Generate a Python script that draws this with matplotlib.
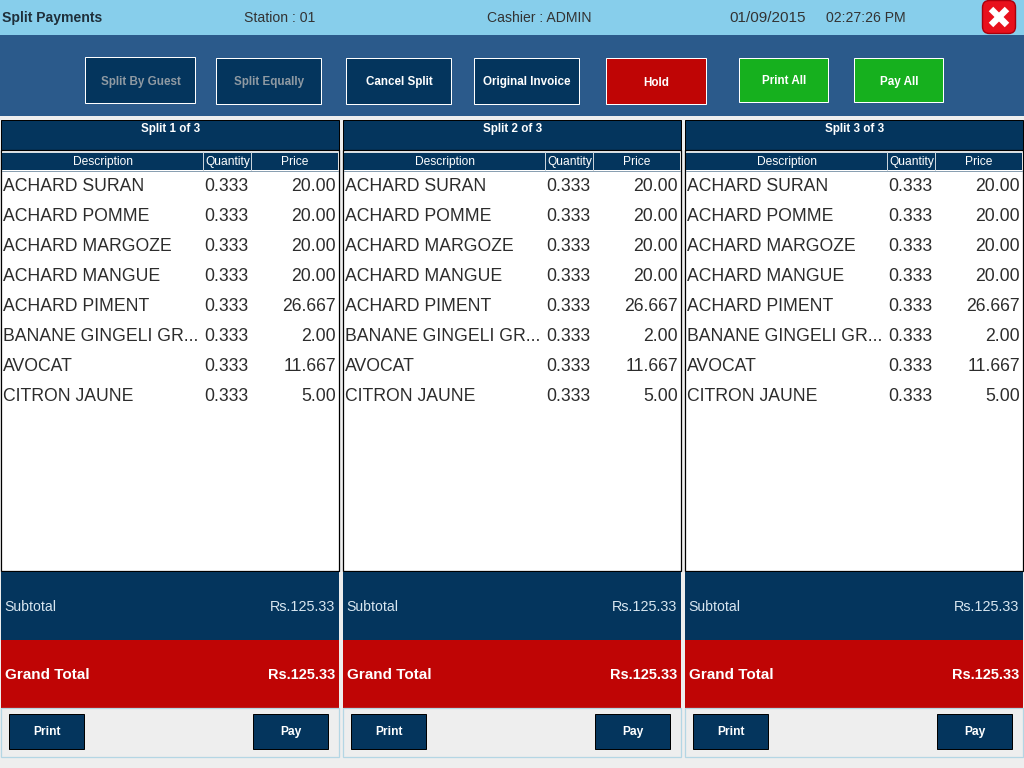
import matplotlib
matplotlib.use("Agg")
import matplotlib.pyplot as plt
from matplotlib.patches import Rectangle, FancyBboxPatch

# === DATA ===
descriptions = ["ACHARD SURAN", "ACHARD POMME", "ACHARD MARGOZE", "ACHARD MANGUE",
                "ACHARD PIMENT", "BANANE GINGELI GR...", "AVOCAT", "CITRON JAUNE"]
quantities = ["0.333", "0.333", "0.333", "0.333", "0.333", "0.333", "0.333", "0.333"]
prices = ["20.00", "20.00", "20.00", "20.00", "26.667", "2.00", "11.667", "5.00"]
split_titles = ["Split 1 of 3", "Split 2 of 3", "Split 3 of 3"]
columns = ["Description", "Quantity", "Price"]
subtotal = "Rs.125.33"
grand_total = "Rs.125.33"

# === COLOURS ===
SKY = "#87ceeb"
BAND = "#2b5a8b"
NAVY = "#04355d"
RED = "#bf0505"
GREEN = "#16b01e"
GREY = "#eeeeee"
FONT = "Liberation Sans"

plt.rcParams["font.family"] = FONT

fig = plt.figure(figsize=(10.24, 7.68), dpi=100)
ax = fig.add_axes([0, 0, 1, 1])
ax.set_xlim(0, 1024)
ax.set_ylim(768, 0)
ax.axis("off")


def box(x0, y0, x1, y1, color, edge="none", lw=0):
    ax.add_patch(Rectangle((x0, y0), x1 - x0, y1 - y0, facecolor=color, edgecolor=edge, linewidth=lw))


def label(x, y, s, px, color="#ffffff", ha="center", weight="normal"):
    # font size is given in pixels, the figure is 100 dpi
    ax.text(x, y, s, fontsize=px * 0.72, color=color, ha=ha, va="center", fontweight=weight)


def button(x0, y0, x1, y1, s, color=NAVY, text_color="#ffffff", edge="#ffffff", text_y=None, px=11.6):
    box(x0, y0, x1 - 1, y1 - 1, color, edge, 0.72)
    label((x0 + x1) / 2, text_y if text_y else (y0 + y1) / 2, s, px, text_color, weight="bold")


def draw_header():
    box(0, 0, 1024, 35, SKY)
    box(0, 35, 1024, 116, BAND)
    label(2, 18, "Split Payments", 14, "#1f2f3a", ha="left", weight="bold")
    label(280, 18, "Station : 01", 14, "#333333")
    label(539, 18, "Cashier : ADMIN", 14, "#333333")
    label(768, 18, "01/09/2015", 15.2, "#333333")
    label(866, 18, "02:27:26 PM", 14, "#333333")

    # close icon
    ax.add_patch(FancyBboxPatch((982.5, 0.5), 33, 33, boxstyle="round,pad=0,rounding_size=7",
                                facecolor="#e8101c", edgecolor="#a8000c", linewidth=1))
    ax.plot([991, 1007], [9, 25], color="#ffffff", lw=4.6, solid_capstyle="butt")
    ax.plot([1007, 991], [9, 25], color="#ffffff", lw=4.6, solid_capstyle="butt")

    button(85, 57, 196, 104, "Split By Guest", text_color="#8f9aa3", text_y=81.5)
    button(216, 58, 322, 105, "Split Equally", text_color="#8f9aa3", text_y=82.5)
    button(346, 58, 452, 105, "Cancel Split", text_y=82.5)
    button(474, 58, 580, 105, "Original Invoice", text_y=82.5)
    button(606, 58, 707, 105, "Hold", color=RED, text_y=82.5)
    button(739, 58, 829, 103, "Print All", color=GREEN, text_y=81.5)
    button(854, 58, 944, 103, "Pay All", color=GREEN, text_y=81.5)


def draw_panel(x, title):
    # x is the left edge of the panel
    box(x + 1, 120, x + 338.5, 150, NAVY, "#000000", 0.72)
    label(x + 171, 129.2, title, 11.6, weight="bold")

    # table with header row
    box(x + 1, 150, x + 338.5, 571, "#ffffff", "#000000", 0.9)
    box(x + 2, 152, x + 338, 170, NAVY)
    ax.plot([x + 2, x + 338], [151.5, 151.5], color="#d5dde3", lw=0.72)
    ax.plot([x + 2, x + 338], [170.5, 170.5], color="#8aa0b2", lw=0.72)
    for sep in (203, 251):
        ax.plot([x + sep, x + sep], [152, 170], color="#c9d3db", lw=0.72)
    label(x + 103, 162, columns[0], 12)
    label(x + 228, 162, columns[1], 12)
    label(x + 295, 162, columns[2], 12)

    for i, (d, q, p) in enumerate(zip(descriptions, quantities, prices)):
        y = 186.2 + 30 * i
        label(x + 3, y, d, 17.6, "#2c2c2c", ha="left")
        label(x + 204.5, y, q, 17.6, "#2c2c2c", ha="left")
        label(x + 336, y, p, 17.6, "#2c2c2c", ha="right")

    # totals
    box(x + 1, 572, x + 339, 640, NAVY)
    box(x + 1, 640, x + 339, 708, RED)
    label(x + 4.5, 607.2, "Subtotal", 14, "#d8e6f0", ha="left")
    label(x + 335.5, 607.2, subtotal, 14.4, "#d8e6f0", ha="right")
    label(x + 5, 675.2, "Grand Total", 15.2, ha="left", weight="bold")
    label(x + 335, 675.2, grand_total, 14.5, ha="right", weight="bold")

    # footer
    box(x + 1, 708, x + 338.5, 757, GREY, "#b4d6e4", 0.9)
    button(x + 9, 714, x + 85, 750, "Print", edge="#000000", text_y=732, px=12)
    button(x + 253, 714, x + 329, 750, "Pay", edge="#000000", text_y=732, px=12)


if __name__ == "__main__":
    box(0, 0, 1024, 768, GREY)
    draw_header()
    for panel_x, split_title in zip((0, 342, 684), split_titles):
        draw_panel(panel_x, split_title)
    fig.savefig("out.png", dpi=100)
